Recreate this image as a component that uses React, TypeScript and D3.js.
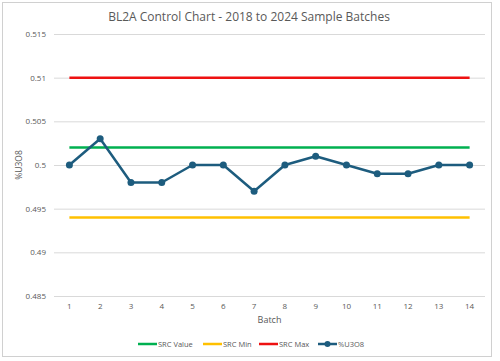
import { useEffect, useRef } from "react";
import * as d3 from "d3";

const WIDTH = 500;
const HEIGHT = 361;
const MARGIN = { top: 34, right: 15, bottom: 65, left: 54 };

const batches = ["1", "2", "3", "4", "5", "6", "7", "8", "9", "10", "11", "12", "13", "14"];
const u3o8 = [0.5, 0.503, 0.498, 0.498, 0.5, 0.5, 0.497, 0.5, 0.501, 0.5, 0.499, 0.499, 0.5, 0.5];
const srcValue = 0.502;
const srcMin = 0.494;
const srcMax = 0.51;
const yTicks = [0.485, 0.49, 0.495, 0.5, 0.505, 0.51, 0.515];

const COLORS = {
    value: "#00B050",
    min: "#FFC000",
    max: "#EE1111",
    data: "#1D5C7E",
};

const legendItems = [
    { name: "SRC Value", color: COLORS.value, x: 138, marker: false },
    { name: "SRC Min", color: COLORS.min, x: 203, marker: false },
    { name: "SRC Max", color: COLORS.max, x: 259, marker: false },
    { name: "%U3O8", color: COLORS.data, x: 318, marker: true },
];

const FONT = "'Open Sans', 'Noto Sans', sans-serif";

export default function App() {
    const axesRef = useRef<SVGGElement | null>(null);
    const boundsWidth = WIDTH - MARGIN.left - MARGIN.right;
    const boundsHeight = HEIGHT - MARGIN.top - MARGIN.bottom;

    const xScale = d3.scaleBand<string>().domain(batches).range([0, boundsWidth]);
    const yScale = d3.scaleLinear().domain([0.485, 0.515]).range([boundsHeight, 0]);
    const cx = (b: string) => (xScale(b) ?? 0) + xScale.bandwidth() / 2;

    useEffect(() => {
        const g = d3.select(axesRef.current);
        g.selectAll("*").remove();

        // gridlines + y labels
        const yAxis = d3
            .axisLeft(yScale)
            .tickValues(yTicks)
            .tickSize(-boundsWidth)
            .tickPadding(8)
            .tickFormat((d) => String(+(+d).toFixed(3)));
        const ya = g.append("g").call(yAxis);
        ya.select(".domain").remove();
        ya.selectAll("line").attr("stroke", "#d9d9d9").attr("stroke-width", 1);
        ya.selectAll("text").attr("fill", "#595959").style("font-size", "8px").style("font-family", FONT);

        const xAxis = d3.axisBottom(xScale).tickSize(0).tickPadding(7);
        const xa = g.append("g").attr("transform", `translate(0,${boundsHeight})`).call(xAxis);
        xa.select(".domain").remove();
        xa.selectAll("text").attr("fill", "#595959").style("font-size", "8px").style("font-family", FONT);
    }, []);

    const lineGen = d3
        .line<number>()
        .x((_, i) => cx(batches[i]))
        .y((d) => yScale(d));

    const refLine = (v: number, color: string) => (
        <line
            x1={cx(batches[0])}
            x2={cx(batches[batches.length - 1])}
            y1={yScale(v)}
            y2={yScale(v)}
            stroke={color}
            strokeWidth={2.5}
        />
    );

    return (
        <div style={{ position: "absolute", left: 0, top: 0 }}>
            <svg width={WIDTH} height={HEIGHT} style={{ display: "block", fontFamily: FONT }}>
                <rect x={0} y={0} width={WIDTH} height={HEIGHT} fill="white" />
                <rect x={2.5} y={2.5} width={489} height={354} fill="white" stroke="#d0d0d0" strokeWidth={1} />
                <text x={249} y={21} textAnchor="middle" fontSize={12} fill="#595959">
                    BL2A Control Chart - 2018 to 2024 Sample Batches
                </text>
                <g transform={`translate(${MARGIN.left},${MARGIN.top})`}>
                    <g ref={axesRef} />
                    {refLine(srcMax, COLORS.max)}
                    {refLine(srcValue, COLORS.value)}
                    {refLine(srcMin, COLORS.min)}
                    <path d={lineGen(u3o8) ?? ""} fill="none" stroke={COLORS.data} strokeWidth={2.5} strokeLinejoin="round" />
                    {u3o8.map((d, i) => (
                        <circle key={i} cx={cx(batches[i])} cy={yScale(d)} r={3.5} fill={COLORS.data} />
                    ))}
                    <text x={boundsWidth / 2} y={boundsHeight + 27} textAnchor="middle" fontSize={9} fill="#595959">
                        Batch
                    </text>
                </g>
                <text
                    transform={`translate(22,${MARGIN.top + boundsHeight / 2}) rotate(-90)`}
                    textAnchor="middle"
                    fontSize={8.5}
                    fill="#595959"
                >
                    %U3O8
                </text>
                <g transform="translate(0,344)">
                    {legendItems.map((it) => (
                        <g key={it.name}>
                            <line x1={it.x} x2={it.x + 19} y1={0} y2={0} stroke={it.color} strokeWidth={2.5} />
                            {it.marker && <circle cx={it.x + 9.5} cy={0} r={3} fill={it.color} />}
                            <text x={it.x + 20} y={3} fontSize={7.5} fill="#595959">
                                {it.name}
                            </text>
                        </g>
                    ))}
                </g>
            </svg>
        </div>
    );
}
